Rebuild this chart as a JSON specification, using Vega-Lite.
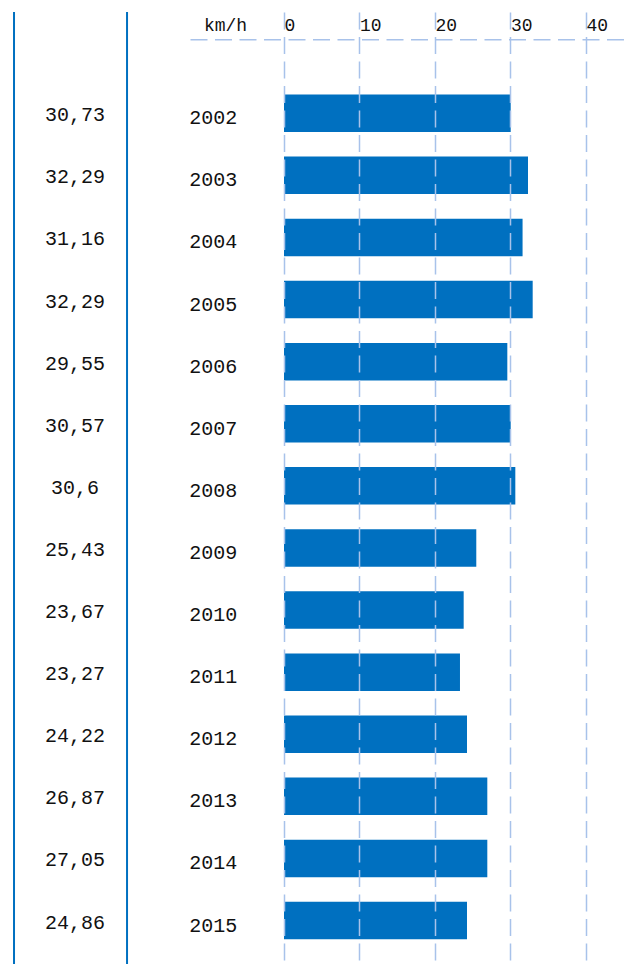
{
  "$schema": "https://vega.github.io/schema/vega-lite/v6.json",
  "width": 436,
  "height": 952,
  "autosize": {"type": "none"},
  "padding": {"left": 190, "top": 12, "right": 0, "bottom": 0},
  "background": "white",
  "config": {"view": {"stroke": null}, "font": "Liberation Mono"},
  "data": {
    "values": [
      {"year": "2002", "speed": 30.03, "label": "30,73"},
      {"year": "2003", "speed": 32.32, "label": "32,29"},
      {"year": "2004", "speed": 31.6, "label": "31,16"},
      {"year": "2005", "speed": 32.94, "label": "32,29"},
      {"year": "2006", "speed": 29.58, "label": "29,55"},
      {"year": "2007", "speed": 30.03, "label": "30,57"},
      {"year": "2008", "speed": 30.64, "label": "30,6"},
      {"year": "2009", "speed": 25.47, "label": "25,43"},
      {"year": "2010", "speed": 23.8, "label": "23,67"},
      {"year": "2011", "speed": 23.31, "label": "23,27"},
      {"year": "2012", "speed": 24.24, "label": "24,22"},
      {"year": "2013", "speed": 26.93, "label": "26,87"},
      {"year": "2014", "speed": 26.93, "label": "27,05"},
      {"year": "2015", "speed": 24.24, "label": "24,86"}
    ]
  },
  "layer": [
    {
      "data": {"values": [{}]},
      "mark": {"type": "rule", "color": "#0070c0", "strokeWidth": 2},
      "encoding": {"x": {"datum": -35.76, "type": "quantitative"}}
    },
    {
      "data": {"values": [{}]},
      "mark": {"type": "rule", "color": "#0070c0", "strokeWidth": 2},
      "encoding": {"x": {"datum": -20.79, "type": "quantitative"}}
    },
    {
      "mark": {"type": "bar", "color": "#0070c0"},
      "encoding": {
        "y": {
          "field": "year",
          "type": "ordinal",
          "sort": null,
          "axis": null,
          "scale": {"paddingInner": 0.396, "paddingOuter": 0.863, "align": 0.7696, "round": false}
        },
        "x": {
          "field": "speed",
          "type": "quantitative",
          "scale": {"domain": [-12.45, 45.3], "nice": false, "zero": false},
          "axis": {
            "orient": "top",
            "offset": -27.3,
            "values": [0, 10, 20, 30, 40],
            "grid": true,
            "gridColor": "#a8c2ea",
            "gridDash": [17, 7.5],
            "gridWidth": 1.5,
            "domain": true,
            "domainColor": "#a8c2ea",
            "domainDash": [17, 7.5],
            "domainWidth": 1.5,
            "ticks": false,
            "tickSize": 0,
            "labelAlign": "left",
            "labelDx": 9,
            "labelBaseline": "alphabetic",
            "labelPadding": 9.3,
            "labelFont": "Liberation Mono",
            "labelFontSize": 18,
            "labelColor": "#111",
            "labelFlush": false,
            "labelOverlap": false,
            "title": "km/h",
            "titleFont": "Liberation Mono",
            "titleFontSize": 18,
            "titleFontWeight": "normal",
            "titleColor": "#111",
            "titleX": 35,
            "titleY": -9.3,
            "titleAlign": "center",
            "titleBaseline": "alphabetic",
            "titleAngle": 0,
            "zindex": 1
          }
        }
      }
    },
    {
      "mark": {"type": "text", "font": "Liberation Mono", "fontSize": 20, "align": "center", "baseline": "alphabetic", "dy": 8, "color": "#111"},
      "encoding": {
        "x": {"datum": -27.68, "type": "quantitative"},
        "y": {"field": "year", "type": "ordinal", "sort": null},
        "text": {"field": "label"}
      }
    },
    {
      "mark": {"type": "text", "font": "Liberation Mono", "fontSize": 20, "align": "center", "baseline": "alphabetic", "dy": 11, "color": "#111"},
      "encoding": {
        "x": {"datum": -9.36, "type": "quantitative"},
        "y": {"field": "year", "type": "ordinal", "sort": null},
        "text": {"field": "year"}
      }
    }
  ]
}
